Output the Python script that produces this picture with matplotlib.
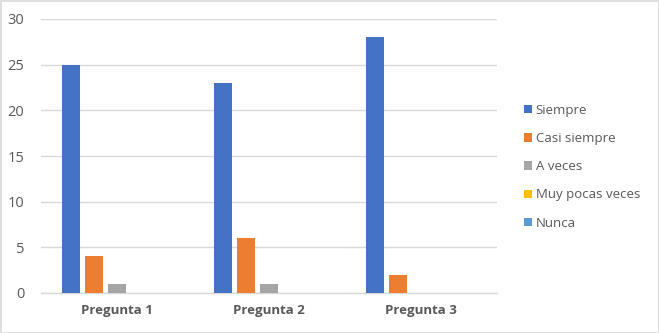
import matplotlib
matplotlib.use("Agg")
import matplotlib.pyplot as plt
import numpy as np
from matplotlib.patches import Rectangle

categories = ["Pregunta 1", "Pregunta 2", "Pregunta 3"]
series_names = ["Siempre", "Casi siempre", "A veces", "Muy pocas veces", "Nunca"]
siempre = [25, 23, 28]
casi_siempre = [4, 6, 2]
a_veces = [1, 1, 0]
muy_pocas_veces = [0, 0, 0]
nunca = [0, 0, 0]
values = [siempre, casi_siempre, a_veces, muy_pocas_veces, nunca]
colors = ["#4472C4", "#ED7D31", "#A5A5A5", "#FFC000", "#5B9BD5"]
y_ticks = [0, 5, 10, 15, 20, 25, 30]

plt.rcParams["font.family"] = ["Open Sans", "DejaVu Sans"]

W, H = 659, 333
fig = plt.figure(figsize=(W / 100, H / 100), dpi=100)
ax = fig.add_axes([41 / W, 1 - 293 / H, (497 - 41) / W, (293 - 19) / H])

x = np.arange(len(categories))
step = 0.151
bw = 0.118
handles = []
for i, (name, vals, c) in enumerate(zip(series_names, values, colors)):
    b = ax.bar(x + (i - 2) * step, vals, width=bw, color=c, label=name, zorder=3)
    handles.append(b)

ax.set_xlim(-0.5, len(categories) - 0.5)
ax.set_ylim(0, 30)
ax.set_yticks(y_ticks)
ax.set_xticks(x)
ax.set_xticklabels(categories, fontsize=9.5, fontweight="bold", color="#595959")
ax.tick_params(axis="y", labelsize=10.5, colors="#595959", length=0, pad=12)
ax.tick_params(axis="x", length=0, pad=8)
ax.grid(axis="y", color="#D9D9D9", linewidth=1, zorder=0)
for s in ["top", "right", "left"]:
    ax.spines[s].set_visible(False)
ax.spines["bottom"].set_color("#D9D9D9")
ax.spines["bottom"].set_linewidth(1)

leg = fig.legend(handles=handles, labels=series_names, loc="upper left",
                 bbox_to_anchor=(512 / W, 1 - 92 / H), frameon=False,
                 fontsize=9.5, handlelength=0.6, handleheight=0.6,
                 handletextpad=0.3, labelspacing=1.15, labelcolor="#595959")

fig.patches.append(Rectangle((0.5 / W, 0.5 / H), 1 - 1 / W, 1 - 1 / H,
                             transform=fig.transFigure, fill=False,
                             edgecolor="#D9D9D9", linewidth=1.2))

fig.savefig("out.png", dpi=100)
